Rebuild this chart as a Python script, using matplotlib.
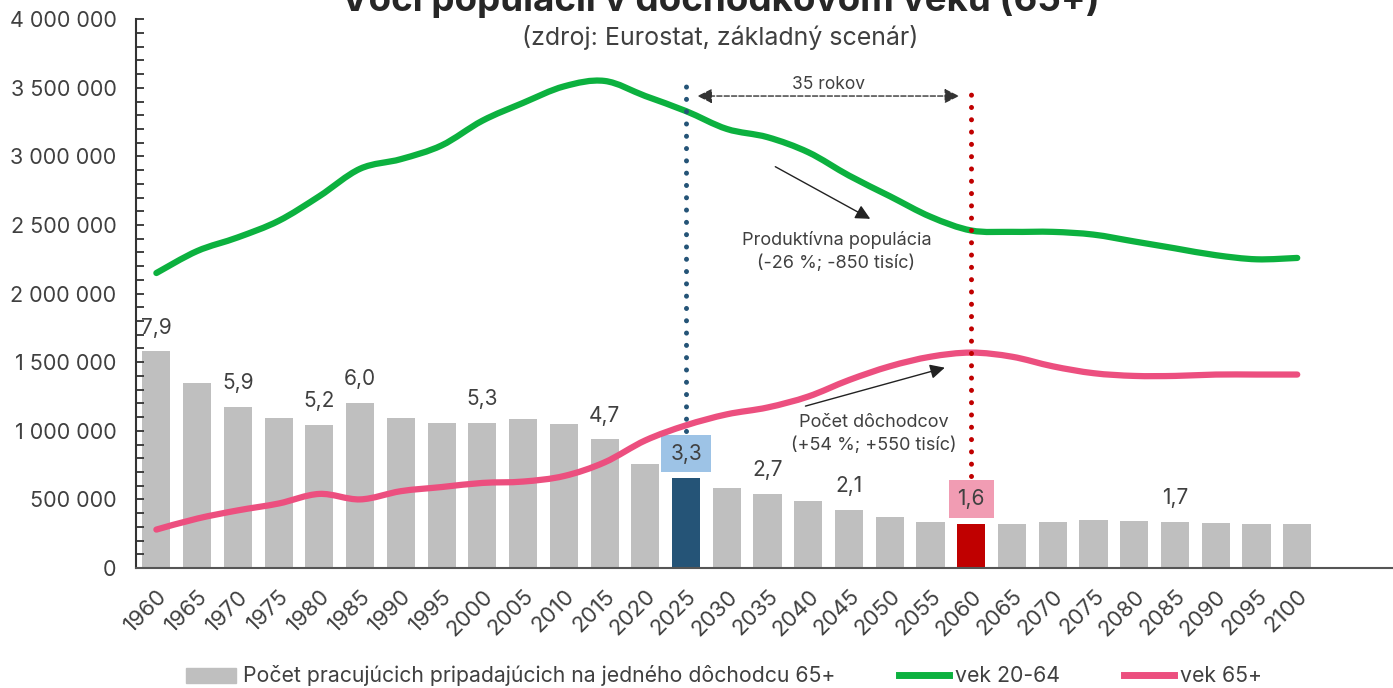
import matplotlib.pyplot as plt
import matplotlib.ticker as mticker
from matplotlib.patches import Patch, PathPatch
from matplotlib.lines import Line2D
from matplotlib.path import Path
import numpy as np

plt.rcParams['font.family'] = ['Inter', 'DejaVu Sans']

years = list(range(1960, 2101, 5))

# pocet pracujucich na jedneho dochodcu
ratio = [7.89, 6.76, 5.86, 5.47, 5.22, 6.03, 5.47, 5.30, 5.30, 5.43, 5.24, 4.69, 3.79,
         3.27, 2.90, 2.69, 2.43, 2.11, 1.86, 1.69, 1.61, 1.61, 1.69, 1.74, 1.71, 1.68,
         1.63, 1.62, 1.62]

# vek 20-64
pop_20_64 = [2.15, 2.31, 2.41, 2.53, 2.71, 2.91, 2.98, 3.08, 3.26, 3.39, 3.51, 3.55, 3.44,
             3.33, 3.20, 3.14, 3.03, 2.86, 2.71, 2.56, 2.46, 2.45, 2.45, 2.43, 2.38, 2.33,
             2.28, 2.25, 2.26]
pop_20_64 = [v * 1e6 for v in pop_20_64]

# vek 65+
pop_65 = [0.28, 0.36, 0.42, 0.47, 0.54, 0.50, 0.56, 0.59, 0.62, 0.63, 0.67, 0.77, 0.93,
          1.04, 1.12, 1.17, 1.25, 1.37, 1.47, 1.54, 1.57, 1.54, 1.47, 1.42, 1.40, 1.40,
          1.41, 1.41, 1.41]
pop_65 = [v * 1e6 for v in pop_65]

shown_labels = {1960: '7,9', 1970: '5,9', 1980: '5,2', 1985: '6,0', 2000: '5,3', 2015: '4,7',
                2035: '2,7', 2045: '2,1', 2085: '1,7'}
boxed_labels = {2025: ('3,3', '#9dc3e6'), 2060: ('1,6', '#f19cb3')}

GRAY = '#bfbfbf'
BLUE = '#255477'
RED = '#c00000'
GREEN = '#0cb13f'
PINK = '#ec4f7f'
TXT = '#404040'


def smooth_line(ax, xs, ys, color):
    # excel-like smoothed line: bezier segments through the points
    pts = np.column_stack([xs, ys]).astype(float)
    n = len(pts)
    verts = [pts[0]]
    codes = [Path.MOVETO]
    for i in range(n - 1):
        p0 = pts[i - 1] if i > 0 else pts[i]
        p1, p2 = pts[i], pts[i + 1]
        p3 = pts[i + 2] if i + 2 < n else pts[i + 1]
        verts += [p1 + (p2 - p0) / 6, p2 - (p3 - p1) / 6, p2]
        codes += [Path.CURVE4] * 3
    ax.add_patch(PathPatch(Path(verts, codes), fill=False, ec=color, lw=4.5,
                           capstyle='round', joinstyle='round'))


fig = plt.figure(figsize=(13.93, 6.88), dpi=100)
ax = fig.add_axes([136 / 1393, 120 / 688, 1257 / 1393, 548.8 / 688])
ax2 = ax.twinx()
ax.set_zorder(ax2.get_zorder() + 1)
ax.patch.set_visible(False)

x = np.arange(len(years))
colors = [BLUE if y == 2025 else RED if y == 2060 else GRAY for y in years]
ax2.bar(x, ratio, width=0.69, color=colors)
ax2.set_ylim(0, 20)
ax2.axis('off')

for i, y in enumerate(years):
    if y in shown_labels:
        ax2.text(i, ratio[i] + 0.5, shown_labels[y], ha='center', va='bottom',
                 fontsize=15, color=TXT)
    if y in boxed_labels:
        lab, c = boxed_labels[y]
        ax2.text(i, ratio[i] + 0.9, lab, ha='center', va='center', fontsize=15, color=TXT,
                 bbox=dict(boxstyle='square,pad=0.42', fc=c, ec='none'))

smooth_line(ax, x, pop_20_64, GREEN)
smooth_line(ax, x, pop_65, PINK)

i25 = years.index(2025)
i60 = years.index(2060)
ax.plot([i25, i25], [1.0e6, 3.51e6], color=BLUE, lw=3.6, ls=(0, (0.01, 2.45)),
        dash_capstyle='round')
ax.plot([i60, i60], [0.67e6, 3.53e6], color=RED, lw=3.6, ls=(0, (0.01, 2.45)),
        dash_capstyle='round')

ax.annotate('', xy=(i25 + 0.28, 3.44e6), xytext=(i60 - 0.3, 3.44e6),
            arrowprops=dict(arrowstyle='<|-|>', color='#333333', lw=1, ls='--',
                            mutation_scale=22, shrinkA=0, shrinkB=0))
ax.text((i25 + i60) / 2, 3.465e6, '35 rokov', ha='center', va='bottom', fontsize=12.5,
        color=TXT)

ax.annotate('', xy=(17.52, 2.545e6), xytext=(15.19, 2.925e6),
            arrowprops=dict(arrowstyle='-|>', color='#222222', lw=1,
                            mutation_scale=22, shrinkA=0, shrinkB=0))
ax.text(16.69, 2.31e6, 'Produktívna populácia\n(-26 %; -850 tisíc)', ha='center',
        va='center', fontsize=13, color=TXT, linespacing=1.4)

ax.annotate('', xy=(19.35, 1.46e6), xytext=(15.93, 1.18e6),
            arrowprops=dict(arrowstyle='-|>', color='#222222', lw=1,
                            mutation_scale=22, shrinkA=0, shrinkB=0))
ax.text(17.6, 0.975e6, 'Počet dôchodcov\n(+54 %; +550 tisíc)', ha='center',
        va='center', fontsize=13, color=TXT, linespacing=1.4)

ax.set_ylim(0, 4e6)
ax.set_xlim(-0.5, 30.35)
ax.yaxis.set_major_locator(mticker.MultipleLocator(500000))
ax.yaxis.set_minor_locator(mticker.MultipleLocator(100000))
ax.yaxis.set_major_formatter(mticker.FuncFormatter(lambda v, p: f'{v:,.0f}'.replace(',', ' ')))
ax.tick_params(axis='y', which='both', direction='in', length=6, width=1.3, color='#333333',
               labelsize=15.5, labelcolor=TXT, pad=14)
ax.set_xticks(x)
ax.set_xticklabels([str(y) for y in years], rotation=45, ha='right',
                   rotation_mode='anchor', fontsize=16, color=TXT)
ax.tick_params(axis='x', length=0, pad=13)
for s in ['top', 'right']:
    ax.spines[s].set_visible(False)
ax.spines['left'].set_color('#333333')
ax.spines['left'].set_linewidth(1.5)
ax.spines['bottom'].set_color('#555555')
ax.spines['bottom'].set_linewidth(1.5)

fig.text(0.517, 1.0, 'Voči populácii v dôchodkovom veku (65+)', ha='center', va='center',
         fontsize=26.5, fontweight='bold', color='#262626')
fig.text(0.517, 1 - 37 / 688, '(zdroj: Eurostat, základný scenár)', ha='center', va='center',
         fontsize=18, color=TXT)

handles = [Patch(color=GRAY), Line2D([], [], color=GREEN, lw=5), Line2D([], [], color=PINK, lw=5)]
labels = ['Počet pracujúcich pripadajúcich na jedného dôchodcu 65+', 'vek 20-64', 'vek 65+']
fig.legend(handles, labels, loc='center', bbox_to_anchor=(0.52, 12 / 688), ncol=3,
           frameon=False, fontsize=15.3, handlelength=2.35, handletextpad=0.3,
           columnspacing=3.0, labelcolor=TXT)

fig.savefig('out.png', dpi=100)
